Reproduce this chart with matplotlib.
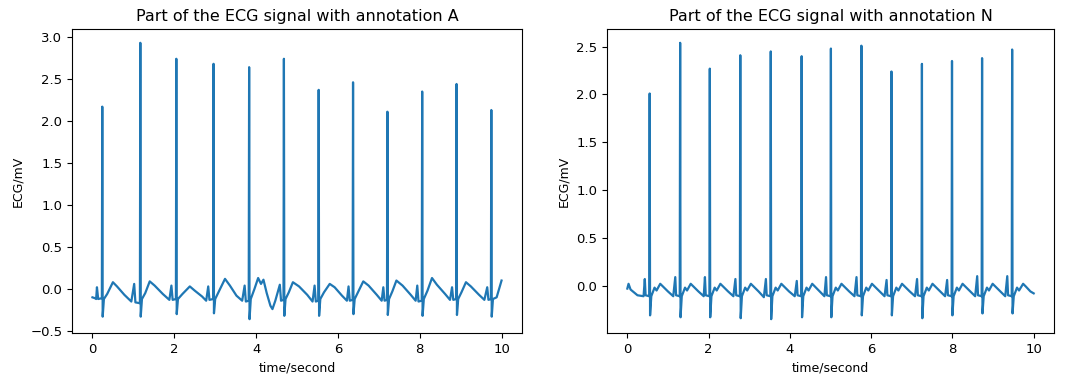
import matplotlib
matplotlib.use("Agg")
import matplotlib.pyplot as plt

# ---- Panel A: ECG vertices (time in s, value in mV) ----
a_time = [
    0.00, 0.06, 0.09,
    0.11, 0.14, 0.23, 0.24, 0.25, 0.28, 0.36, 0.50, 0.60, 0.78, 0.95,
    1.02, 1.05, 1.16, 1.17, 1.18, 1.21, 1.29, 1.40, 1.52, 1.72, 1.88,
    1.93, 1.96, 2.04, 2.05, 2.06, 2.09, 2.20, 2.38, 2.50, 2.68, 2.78,
    2.83, 2.86, 2.95, 2.96, 2.97, 3.00, 3.10, 3.24, 3.36, 3.52, 3.66,
    3.72, 3.75, 3.82, 3.83, 3.84, 3.87, 3.96, 4.05, 4.12, 4.18, 4.26, 4.35, 4.40, 4.47,
    4.58, 4.61, 4.67, 4.68, 4.69, 4.72, 4.80, 4.90, 5.05, 5.25, 5.38,
    5.43, 5.46, 5.52, 5.53, 5.54, 5.57, 5.66, 5.80, 5.92, 6.10, 6.22,
    6.26, 6.29, 6.36, 6.37, 6.38, 6.41, 6.50, 6.62, 6.75, 6.95, 7.07,
    7.11, 7.14, 7.20, 7.21, 7.22, 7.25, 7.33, 7.43, 7.58, 7.78, 7.90,
    7.94, 7.97, 8.05, 8.06, 8.07, 8.10, 8.19, 8.30, 8.42, 8.62, 8.74,
    8.79, 8.82, 8.89, 8.90, 8.91, 8.94, 9.02, 9.13, 9.25, 9.45, 9.58,
    9.65, 9.68, 9.74, 9.75, 9.76, 9.79, 9.88, 10.00,
]
a_mv = [
    -0.10, -0.11, -0.12,
    0.02, -0.12, -0.11, 2.17, -0.33, -0.12, -0.06, 0.08, 0.03, -0.07, -0.15,
    0.06, -0.16, -0.17, 2.93, -0.33, -0.12, -0.05, 0.09, 0.04, -0.06, -0.13,
    0.04, -0.13, -0.12, 2.74, -0.30, -0.12, -0.06, 0.03, -0.02, -0.09, -0.14,
    0.03, -0.13, -0.12, 2.68, -0.29, -0.12, -0.02, 0.12, 0.04, -0.08, -0.14,
    0.04, -0.15, -0.14, 2.64, -0.36, -0.12, 0.00, 0.13, 0.06, 0.11, -0.05, -0.20, -0.24, -0.14,
    0.05, -0.14, -0.13, 2.74, -0.32, -0.12, -0.04, 0.08, 0.03, -0.07, -0.15,
    0.04, -0.15, -0.14, 2.37, -0.32, -0.12, -0.04, 0.06, 0.02, -0.08, -0.14,
    0.03, -0.14, -0.13, 2.46, -0.30, -0.12, -0.03, 0.09, 0.04, -0.07, -0.14,
    0.02, -0.14, -0.13, 2.11, -0.31, -0.12, -0.03, 0.10, 0.04, -0.07, -0.14,
    0.04, -0.15, -0.14, 2.35, -0.32, -0.12, -0.02, 0.13, 0.05, -0.06, -0.13,
    0.02, -0.13, -0.12, 2.44, -0.31, -0.12, -0.04, 0.08, 0.03, -0.07, -0.13,
    0.02, -0.13, -0.12, 2.13, -0.33, -0.12, -0.10, 0.10,
]

# ---- Panel N: ECG vertices (time in s, value in mV) ----
n_time = [
    0.00, 0.03, 0.08, 0.25, 0.40,
    0.43, 0.45, 0.54, 0.55, 0.56, 0.59, 0.67, 0.72, 0.81, 0.88, 1.00, 1.13,
    1.18, 1.20, 1.29, 1.30, 1.31, 1.34, 1.42, 1.47, 1.56, 1.63, 1.75, 1.88,
    1.91, 1.93, 2.02, 2.03, 2.04, 2.07, 2.15, 2.20, 2.29, 2.36, 2.48, 2.61,
    2.66, 2.68, 2.77, 2.78, 2.79, 2.82, 2.90, 2.95, 3.04, 3.11, 3.23, 3.36,
    3.41, 3.43, 3.52, 3.53, 3.54, 3.57, 3.65, 3.70, 3.79, 3.86, 3.98, 4.12,
    4.17, 4.19, 4.28, 4.29, 4.30, 4.33, 4.41, 4.46, 4.55, 4.62, 4.74, 4.85,
    4.89, 4.91, 5.00, 5.01, 5.02, 5.05, 5.13, 5.18, 5.27, 5.34, 5.46, 5.59,
    5.64, 5.66, 5.75, 5.76, 5.77, 5.80, 5.88, 5.93, 6.02, 6.09, 6.21, 6.33,
    6.38, 6.40, 6.49, 6.50, 6.51, 6.54, 6.62, 6.67, 6.76, 6.83, 6.95, 7.08,
    7.13, 7.15, 7.24, 7.25, 7.26, 7.29, 7.37, 7.42, 7.51, 7.58, 7.70, 7.82,
    7.87, 7.89, 7.98, 7.99, 8.00, 8.03, 8.11, 8.16, 8.25, 8.32, 8.44, 8.56,
    8.61, 8.63, 8.72, 8.73, 8.74, 8.77, 8.85, 8.90, 8.99, 9.06, 9.18, 9.30,
    9.35, 9.37, 9.46, 9.47, 9.48, 9.51, 9.59, 9.64, 9.74, 9.81, 9.92, 10.00,
]
n_mv = [
    -0.03, 0.02, -0.04, -0.10, -0.11,
    0.07, -0.10, -0.11, 2.01, -0.31, -0.11, -0.02, -0.05, 0.02, -0.01, -0.06, -0.11,
    0.09, -0.10, -0.11, 2.54, -0.33, -0.11, -0.02, -0.05, 0.02, -0.01, -0.06, -0.11,
    0.09, -0.10, -0.11, 2.27, -0.33, -0.11, -0.02, -0.05, 0.02, -0.01, -0.06, -0.11,
    0.07, -0.10, -0.11, 2.41, -0.34, -0.11, -0.02, -0.05, 0.02, -0.01, -0.06, -0.12,
    0.07, -0.10, -0.11, 2.45, -0.35, -0.11, -0.02, -0.05, 0.02, -0.01, -0.06, -0.11,
    0.05, -0.10, -0.11, 2.40, -0.33, -0.11, -0.02, -0.05, 0.02, -0.01, -0.06, -0.11,
    0.09, -0.10, -0.11, 2.48, -0.33, -0.11, -0.02, -0.05, 0.02, -0.01, -0.06, -0.11,
    0.09, -0.10, -0.11, 2.51, -0.31, -0.11, -0.02, -0.05, 0.02, -0.01, -0.06, -0.11,
    0.06, -0.10, -0.11, 2.24, -0.31, -0.11, -0.02, -0.05, 0.02, -0.01, -0.06, -0.11,
    0.07, -0.10, -0.11, 2.32, -0.34, -0.11, -0.02, -0.05, 0.02, -0.01, -0.06, -0.11,
    0.06, -0.10, -0.11, 2.35, -0.31, -0.11, -0.02, -0.05, 0.02, -0.01, -0.06, -0.11,
    0.10, -0.10, -0.11, 2.38, -0.29, -0.11, -0.02, -0.05, 0.02, -0.01, -0.06, -0.11,
    0.10, -0.10, -0.11, 2.47, -0.29, -0.11, -0.02, -0.05, 0.02, -0.01, -0.06, -0.08,
]

titles = ["Part of the ECG signal with annotation A",
          "Part of the ECG signal with annotation N"]
x_label = "time/second"
y_label = "ECG/mV"

fig = plt.figure(figsize=(10.7, 3.78), dpi=100)
ax1 = fig.add_axes([72 / 1070, 45 / 378, 450 / 1070, 304 / 378])
ax2 = fig.add_axes([607 / 1070, 45 / 378, 447 / 1070, 304 / 378])

for ax, t, v, title in [(ax1, a_time, a_mv, titles[0]), (ax2, n_time, n_mv, titles[1])]:
    ax.plot(t, v, color="#1f77b4", linewidth=1.6)
    ax.set_title(title, fontsize=11.5)
    ax.set_xlabel(x_label, fontsize=9)
    ax.set_ylabel(y_label, fontsize=9)
    ax.tick_params(labelsize=9.5)

ax1.set_xticks([0, 2, 4, 6, 8, 10])
ax2.set_xticks([0, 2, 4, 6, 8, 10])
ax1.set_yticks([-0.5, 0.0, 0.5, 1.0, 1.5, 2.0, 2.5, 3.0])
ax2.set_yticks([0.0, 0.5, 1.0, 1.5, 2.0, 2.5])

fig.savefig("out.png", dpi=100)
